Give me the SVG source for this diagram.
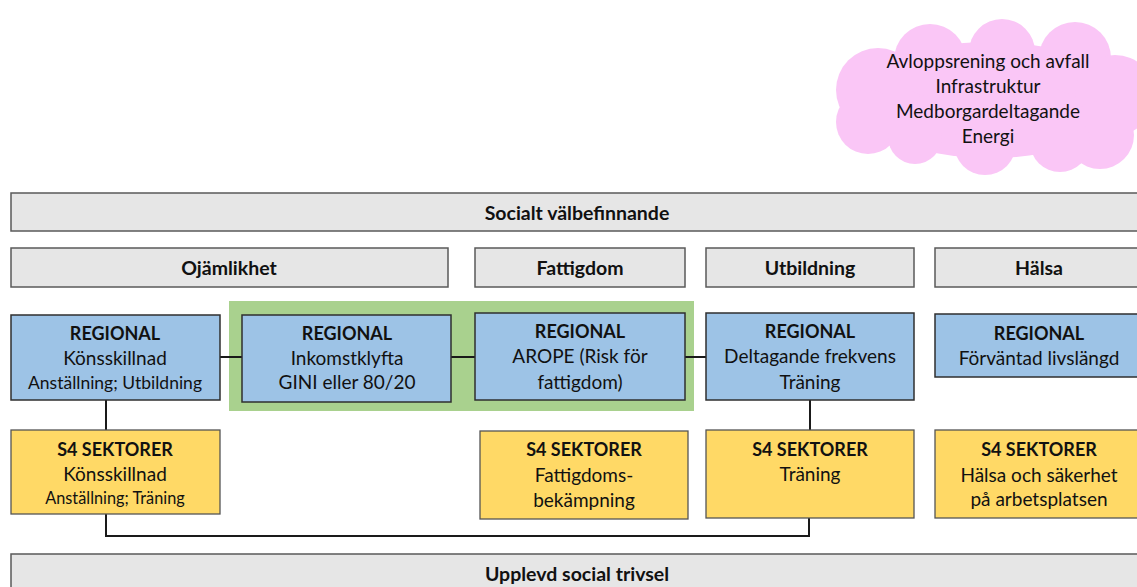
<svg xmlns="http://www.w3.org/2000/svg" width="1137" height="587" viewBox="0 0 1137 587">
<style>
text{font-family:Lato,"Open Sans","Liberation Sans",sans-serif;fill:#111;text-anchor:middle;dominant-baseline:central}
.h{font-weight:bold;font-size:19.5px}
.b{font-weight:bold;font-size:18px}
.t{font-size:19px}
.s{font-size:17.5px}
.xs{font-size:16.3px}
.gray{fill:#e6e6e6;stroke:#5a5a5a;stroke-width:1.5}
.blue{fill:#9dc3e6;stroke:#2f2f2f;stroke-width:1.5}
.yel{fill:#ffd966;stroke:#555;stroke-width:1.3}
.con{fill:none;stroke:#1a1a1a;stroke-width:2}
.cloud{fill:#fac6f6}
</style>
<rect width="1137" height="587" fill="#fff"/>
<g id="cloud">
<g class="cloud">
<ellipse cx="990" cy="100" rx="135" ry="58"/>
<circle cx="878" cy="90" r="42"/>
<circle cx="868" cy="122" r="32"/>
<circle cx="930" cy="60" r="36"/>
<circle cx="1002" cy="52" r="33"/>
<circle cx="1075" cy="58" r="36"/>
<circle cx="1115" cy="95" r="40"/>
<circle cx="1100" cy="135" r="34"/>
<circle cx="1060" cy="142" r="30"/>
<circle cx="985" cy="144" r="31"/>
<circle cx="915" cy="137" r="27"/>
</g>
<text class="t" x="988" y="60">Avloppsrening och avfall</text>
<text class="t" x="988" y="85">Infrastruktur</text>
<text class="t" x="988" y="110">Medborgardeltagande</text>
<text class="t" x="988" y="135">Energi</text>
</g>
<g id="top">
<rect class="gray" x="11" y="193" width="1132" height="38"/>
<text class="h" x="577" y="212">Socialt välbefinnande</text>
</g>
<g id="cat-ojamlikhet"><rect class="gray" x="11" y="248" width="437" height="39"/><text class="h" x="229" y="267">Ojämlikhet</text></g>
<g id="cat-fattigdom"><rect class="gray" x="475" y="248" width="210" height="39"/><text class="h" x="580" y="267">Fattigdom</text></g>
<g id="cat-utbildning"><rect class="gray" x="706" y="248" width="208" height="39"/><text class="h" x="810" y="267">Utbildning</text></g>
<g id="cat-halsa"><rect class="gray" x="935" y="248" width="208" height="39"/><text class="h" x="1039" y="267">Hälsa</text></g>
<g id="green-highlight"><rect x="229" y="301" width="465" height="110" fill="#a9d18e"/></g>
<g id="connectors">
<line class="con" x1="220" y1="357" x2="242" y2="357"/>
<line class="con" x1="451" y1="357" x2="475" y2="357"/>
<line class="con" x1="685" y1="357" x2="706" y2="357"/>
<line class="con" x1="106" y1="400" x2="106" y2="430"/>
<line class="con" x1="810" y1="400" x2="810" y2="430"/>
<polyline class="con" points="106,514 106,536 809,536 809,518"/>
</g>
<g id="reg1"><rect class="blue" x="11" y="315" width="209" height="85"/>
<text class="b" x="115" y="333">REGIONAL</text><text class="t" x="115" y="357">Könsskillnad</text><text class="s" x="115" y="382">Anställning; Utbildning</text></g>
<g id="reg2"><rect class="blue" x="242" y="315" width="209" height="87"/>
<text class="b" x="347" y="333">REGIONAL</text><text class="t" x="347" y="357">Inkomstklyfta</text><text class="t" x="347" y="381">GINI eller 80/20</text></g>
<g id="reg3"><rect class="blue" x="475" y="313" width="210" height="87"/>
<text class="b" x="580" y="331">REGIONAL</text><text class="t" x="580" y="355">AROPE (Risk för</text><text class="t" x="580" y="381">fattigdom)</text></g>
<g id="reg4"><rect class="blue" x="706" y="313" width="208" height="87"/>
<text class="b" x="810" y="331">REGIONAL</text><text class="t" x="810" y="355">Deltagande frekvens</text><text class="t" x="810" y="381">Träning</text></g>
<g id="reg5"><rect class="blue" x="935" y="314" width="208" height="63"/>
<text class="b" x="1039" y="333">REGIONAL</text><text class="t" x="1039" y="357">Förväntad livslängd</text></g>
<g id="s4-1"><rect class="yel" x="11" y="430" width="209" height="84"/>
<text class="b" x="115" y="449">S4 SEKTORER</text><text class="t" x="115" y="473">Könsskillnad</text><text class="xs" x="115" y="497">Anställning; Träning</text></g>
<g id="s4-2"><rect class="yel" x="480" y="431" width="208" height="88"/>
<text class="b" x="584" y="449">S4 SEKTORER</text><text class="t" x="584" y="474">Fattigdoms-</text><text class="t" x="584" y="499">bekämpning</text></g>
<g id="s4-3"><rect class="yel" x="706" y="430" width="208" height="88"/>
<text class="b" x="810" y="449">S4 SEKTORER</text><text class="t" x="810" y="473">Träning</text></g>
<g id="s4-4"><rect class="yel" x="935" y="430" width="208" height="88"/>
<text class="b" x="1039" y="449">S4 SEKTORER</text><text class="t" x="1039" y="474">Hälsa och säkerhet</text><text class="t" x="1039" y="498">på arbetsplatsen</text></g>
<g id="bottom">
<rect class="gray" x="11" y="554" width="1132" height="45"/>
<text class="h" x="577" y="573">Upplevd social trivsel</text>
</g>
</svg>
